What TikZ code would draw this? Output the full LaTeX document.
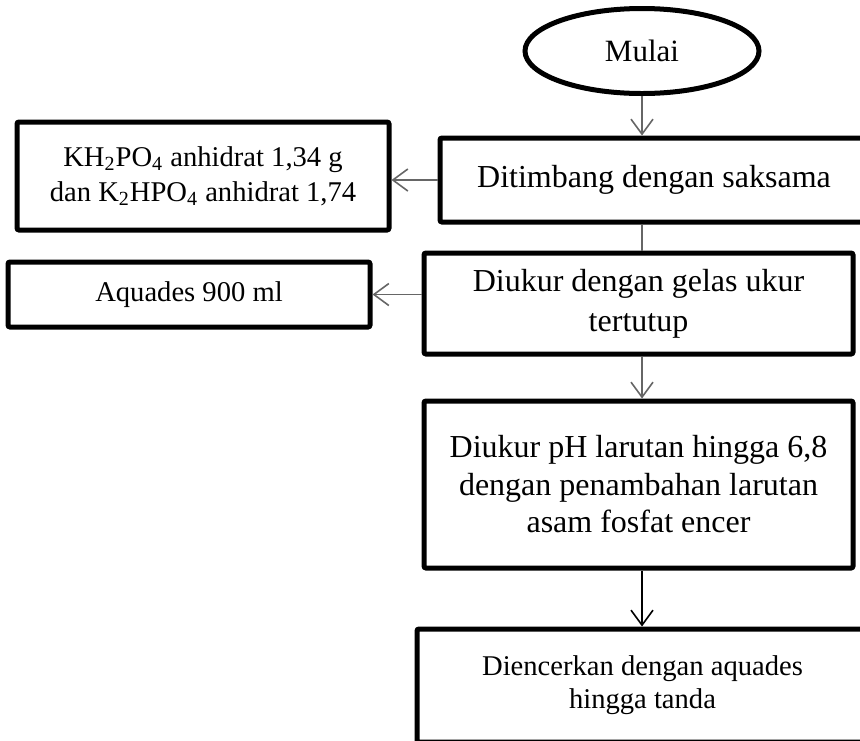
\documentclass[tikz,border=0pt]{standalone}
\usepackage{fontspec}
\setmainfont{Liberation Serif}
\usetikzlibrary{positioning}
\usetikzlibrary{shapes.geometric}
\usetikzlibrary{arrows.meta}

\begin{document}
\begin{tikzpicture}[x=0.5pt, y=-0.5pt]

\useasboundingbox (0,0) rectangle (860,740);
\clip (0,0) rectangle (860,740);

\tikzset
  {
    myBox/.style=      {draw, line width=2.5pt, rounded corners=1pt, inner sep=0pt, align=center, font=\fontsize{16}{20}\selectfont},
    mySmallBox/.style= {myBox, font=\fontsize{14.3}{17.5}\selectfont},
    myStart/.style=    {draw, ellipse, line width=2.5pt, inner sep=0pt, font=\fontsize{15.5}{18}\selectfont},
    myArrow/.style=    {draw=black!60, line width=0.8pt, -{Straight Barb[length=7.5pt, width=11pt]}},
    myLine/.style=     {draw=black!60, line width=0.8pt}
  }

% start
\node[myStart, minimum width=117pt, minimum height=42.5pt] (mulai) at (642,51) {Mulai};

% main column
\node[myBox, minimum width=214pt, minimum height=42pt] (timbang) at (654,180)
{Ditimbang dengan saksama};
\node[myBox, minimum width=214.5pt, minimum height=50.5pt] (ukur) at (638.5,303.5)
{Diukur dengan gelas ukur\\tertutup};
\node[myBox, minimum width=214.5pt, minimum height=83.5pt, font=\fontsize{16}{18.75}\selectfont] (ph) at (638.5,484.5)
{Diukur pH larutan hingga 6,8\\dengan penambahan larutan\\asam fosfat encer};
\node[mySmallBox, minimum width=225.5pt, minimum height=56.5pt, font=\fontsize{14.3}{16.5}\selectfont] (encer) at (642.5,685.5)
{Diencerkan dengan aquades\\hingga tanda};

% side boxes
\node[mySmallBox, minimum width=186pt, minimum height=54pt] (bahan) at (203,176)
{KH\textsubscript{2}PO\textsubscript{4} anhidrat 1,34 g\\dan K\textsubscript{2}HPO\textsubscript{4} anhidrat 1,74};
\node[mySmallBox, minimum width=181pt, minimum height=32.5pt] (aquades) at (189,294.5)
{Aquades 900 ml};

% connectors
\draw[myArrow] (mulai.south) -- (mulai.south |- timbang.north);
\draw[myArrow] (timbang.west) -- (bahan.east |- timbang.west);
\draw[myLine] (mulai.south |- timbang.south) -- (mulai.south |- ukur.north);
\draw[myArrow] (ukur.west |- aquades.east) -- (aquades.east);
\draw[myArrow] (mulai.south |- ukur.south) -- (mulai.south |- ph.north);
\draw[myArrow, draw=black] (mulai.south |- ph.south) -- (mulai.south |- encer.north);

\end{tikzpicture}
\end{document}
